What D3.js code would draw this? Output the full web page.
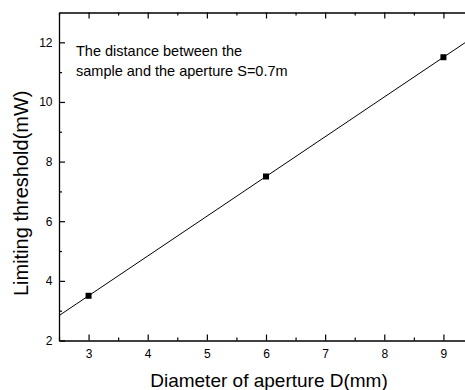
<!DOCTYPE html>
<html><head><meta charset="utf-8">
<script src="https://cdn.jsdelivr.net/npm/d3@7"></script>
<style>body{margin:0;background:#fff;} svg{display:block;font-family:"Liberation Sans",Arial,sans-serif;}</style>
</head><body>
<svg id="c" width="465" height="390"></svg>
<script>
const diameters = [3, 6, 9];
const thresholds = [3.5, 7.5, 11.5];
const xTicks = [3, 4, 5, 6, 7, 8, 9];
const yTicks = [2, 4, 6, 8, 10, 12];
const xLabel = "Diameter of aperture D(mm)";
const yLabel = "Limiting threshold(mW)";
const noteLines = ["The distance between the", "sample and the aperture S=0.7m"];

const svg = d3.select("#c");
const L = 59, T = 12.5, R = 473, B = 340.5;
const x = d3.scaleLinear().domain([2.5, 9.5]).range([L, R]);
const y = d3.scaleLinear().domain([2, 13]).range([B, T]);

// linear fit
const mx = d3.mean(diameters), my = d3.mean(thresholds);
const slope = d3.sum(diameters.map((d,i)=>(d-mx)*(thresholds[i]-my))) / d3.sum(diameters.map(d=>(d-mx)**2));
const icpt = my - slope*mx;

svg.append("clipPath").attr("id","clip").append("rect").attr("x",L).attr("y",T).attr("width",R-L).attr("height",B-T);
svg.append("path").attr("clip-path","url(#clip)")
  .attr("d", d3.line().x(d=>x(d)).y(d=>y(slope*d+icpt))(x.domain()))
  .attr("stroke","#000").attr("stroke-width",1).attr("fill","none");

svg.selectAll("rect.pt").data(diameters).join("rect").attr("class","pt")
  .attr("x",(d)=>x(d)-3).attr("y",(d,i)=>y(thresholds[i])-3).attr("width",6).attr("height",6).attr("fill","#000");

const xMinor = d3.range(2.5, 9.51, 0.5).filter(v=>!xTicks.includes(v));
const yMinor = d3.range(3, 13, 2);
const fmt = d3.format("d");

function styleAxis(g){ g.select(".domain").attr("stroke","#000").attr("stroke-width",1.3); g.selectAll(".tick line").attr("stroke","#000").attr("stroke-width",1.2); g.selectAll("text").attr("font-size",12).attr("fill","#000").attr("font-family","Liberation Sans, Arial, sans-serif"); }
function minor(g){ g.select(".domain").remove(); g.selectAll("line").attr("stroke","#000").attr("stroke-width",1.2); }

// bottom
svg.append("g").attr("transform",`translate(0,${B})`)
  .call(d3.axisBottom(x).tickValues(xTicks).tickFormat(fmt).tickSize(-6).tickPadding(8.5).tickSizeOuter(0)).call(styleAxis);
svg.append("g").attr("transform",`translate(0,${B})`)
  .call(d3.axisBottom(x).tickValues(xMinor).tickSize(-3).tickFormat("").tickSizeOuter(0)).call(minor);
// top
svg.append("g").attr("transform",`translate(0,${T})`)
  .call(d3.axisTop(x).tickValues(xTicks).tickSize(-6).tickFormat("").tickSizeOuter(0)).call(styleAxis);
svg.append("g").attr("transform",`translate(0,${T})`)
  .call(d3.axisTop(x).tickValues(xMinor).tickSize(-3).tickFormat("").tickSizeOuter(0)).call(minor);
// left
svg.append("g").attr("transform",`translate(${L},0)`)
  .call(d3.axisLeft(y).tickValues(yTicks).tickFormat(fmt).tickSize(-6).tickPadding(6.5).tickSizeOuter(0)).call(styleAxis);
svg.append("g").attr("transform",`translate(${L},0)`)
  .call(d3.axisLeft(y).tickValues(yMinor).tickSize(-3).tickFormat("").tickSizeOuter(0)).call(minor);

// labels
svg.append("text").attr("x",269).attr("y",386.5).attr("text-anchor","middle").attr("font-size",19).text(xLabel);
svg.append("text").attr("transform",`translate(27.5,193.3) rotate(-90)`).attr("text-anchor","middle").attr("font-size",20).text(yLabel);

svg.append("g").selectAll("text").data(noteLines).join("text")
  .attr("x",76).attr("y",(d,i)=>55.5+i*20).attr("font-size",14.5).text(d=>d);
</script>
</body></html>
